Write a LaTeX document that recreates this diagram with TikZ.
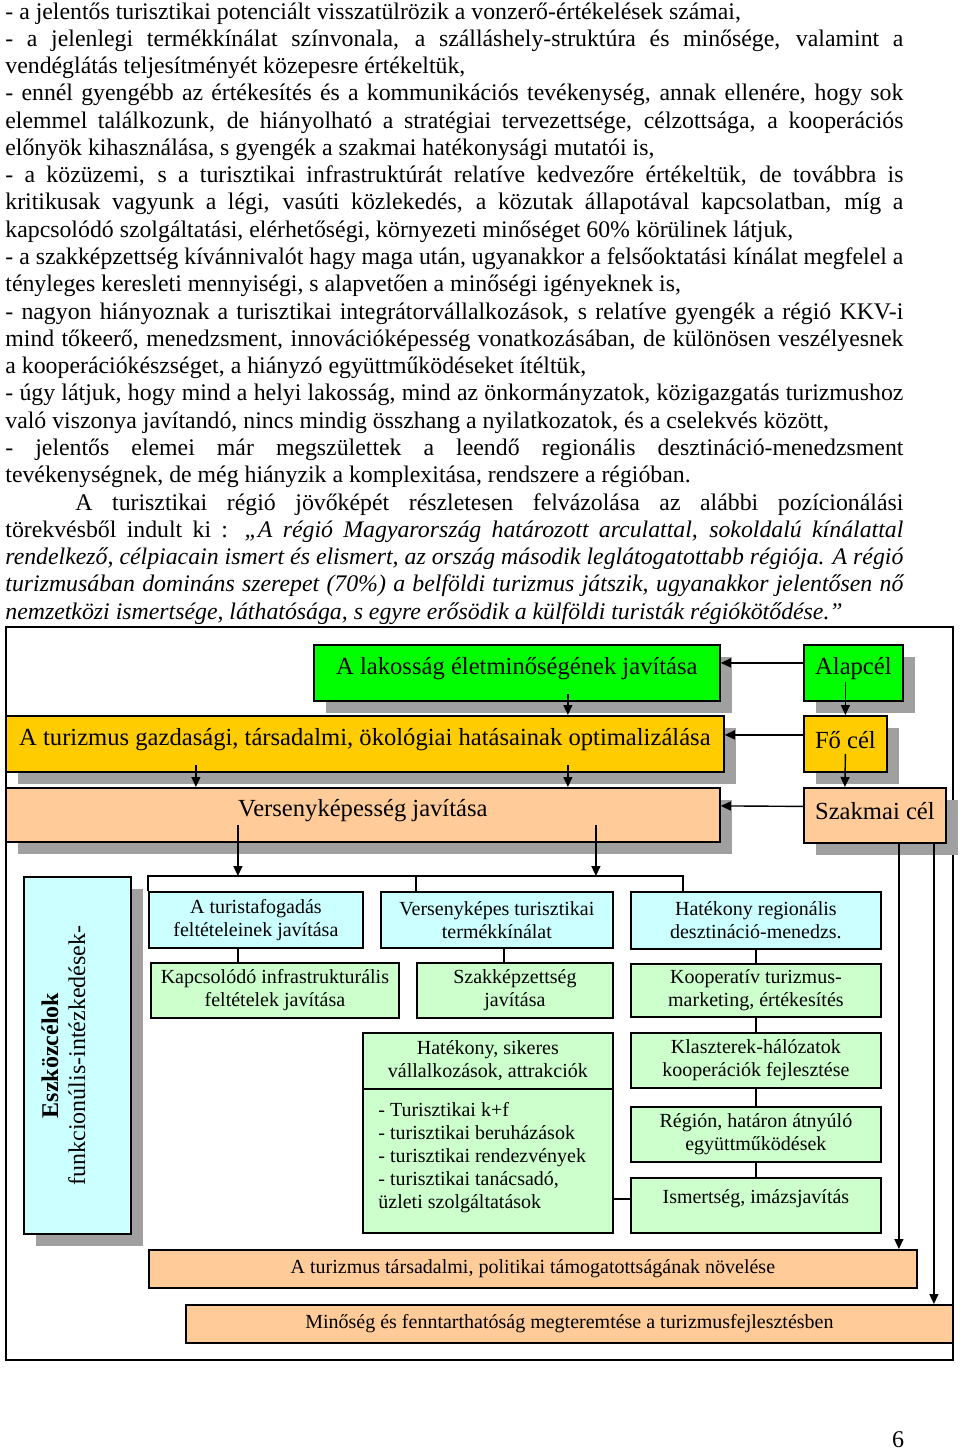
\documentclass[tikz,border=0pt]{standalone}
\usepackage{fontspec}
\setmainfont{Liberation Serif}
\usetikzlibrary{positioning,shadows,arrows.meta}

\definecolor{zold}{RGB}{0,255,0}
\definecolor{sarga}{RGB}{255,204,0}
\definecolor{barack}{RGB}{255,204,153}
\definecolor{cian}{RGB}{204,255,255}
\definecolor{halvanyzold}{RGB}{204,255,204}
\definecolor{arnyek}{RGB}{160,160,160}

\begin{document}
\begin{tikzpicture}[x=0.5pt,y=-0.5pt,
   doboz/.style={draw,line width=0.9pt,inner sep=0pt,anchor=north west},
   cel/.style={doboz,minimum height=28pt,
     drop shadow={shadow xshift=6pt,shadow yshift=-6pt,fill=arnyek,opacity=1}},
   eszkoz/.style={doboz,align=center,minimum width=125pt,minimum height=27.5pt,
     font=\fontsize{10}{11.5}\selectfont},
   celtext/.style={inner sep=0pt,font=\fontsize{12.3}{14}\selectfont},
   kistext/.style={inner sep=0pt,font=\fontsize{10}{11.5}\selectfont},
   nyil/.style={line width=0.7pt,-{Triangle[length=5pt,width=4.5pt]}},
   vonal/.style={line width=0.7pt}]
   \useasboundingbox (0,0) rectangle (960,1451);

   \node[anchor=base west,text width=449pt,align=justify,inner sep=0pt,
     font=\fontsize{11.9}{13.64}\selectfont] (bevezeto) at (5,19) {%
     \tolerance=10000 \hbadness=10000 \hyphenpenalty=10000 \exhyphenpenalty=10000
     - a jelentős turisztikai potenciált visszatülrözik a vonzerő-értékelések számai,\par
     - a jelenlegi termékkínálat színvonala, a szálláshely-struktúra és minősége, valamint a\linebreak
     vendéglátás teljesítményét közepesre értékeltük,\par
     - ennél gyengébb az értékesítés és a kommunikációs tevékenység, annak ellenére, hogy sok\linebreak
     elemmel találkozunk, de hiányolható a stratégiai tervezettsége, célzottsága, a kooperációs\linebreak
     előnyök kihasználása, s gyengék a szakmai hatékonysági mutatói is,\par
     - a közüzemi, s a turisztikai infrastruktúrát relatíve kedvezőre értékeltük, de továbbra is\linebreak
     kritikusak vagyunk a légi, vasúti közlekedés, a közutak állapotával kapcsolatban, míg a\linebreak
     kapcsolódó szolgáltatási, elérhetőségi, környezeti minőséget 60\% körülinek látjuk,\par
     - a szakképzettség kívánnivalót hagy maga után, ugyanakkor a felsőoktatási kínálat megfelel a\linebreak
     tényleges keresleti mennyiségi, s alapvetően a minőségi igényeknek is,\par
     - nagyon hiányoznak a turisztikai integrátorvállalkozások, s relatíve gyengék a régió KKV-i\linebreak
     mind tőkeerő, menedzsment, innovációképesség vonatkozásában, de különösen veszélyesnek\linebreak
     a kooperációkészséget, a hiányzó együttműködéseket ítéltük,\par
     - úgy látjuk, hogy mind a helyi lakosság, mind az önkormányzatok, közigazgatás turizmushoz\linebreak
     való viszonya javítandó, nincs mindig összhang a nyilatkozatok, és a cselekvés között,\par
     - jelentős elemei már megszülettek a leendő regionális desztináció-menedzsment\linebreak
     tevékenységnek, de még hiányzik a komplexitása, rendszere a régióban.\par
     \hspace*{35pt}A turisztikai régió jövőképét részletesen felvázolása az alábbi pozícionálási\linebreak
     törekvésből indult ki : \textit{„A régió Magyarország határozott arculattal, sokoldalú kínálattal\linebreak
     rendelkező, célpiacain ismert és elismert, az ország második leglátogatottabb régiója. A régió\linebreak
     turizmusában domináns szerepet (70\%) a belföldi turizmus játszik, ugyanakkor jelentősen nő\linebreak
     nemzetközi ismertsége, láthatósága, s egyre erősödik a külföldi turisták régiókötődése.”}};

   \node[doboz,line width=0.8pt,minimum width=473.5pt,minimum height=366.5pt] (keret) at (5,626) {};

   % celok
   \node[cel,fill=zold,minimum width=203pt] (lako) at (313,644) {};
   \node[cel,fill=zold,minimum width=49.5pt] (alap) at (803,644) {};
   \node[cel,fill=sarga,minimum width=359pt] (gazd) at (5,715) {};
   \node[cel,fill=sarga,minimum width=41.5pt] (focel) at (803,715) {};
   \node[cel,fill=barack,minimum width=357pt,minimum height=27pt] (verseny) at (5,787) {};
   \node[cel,fill=barack,minimum width=71pt,minimum height=27.5pt] (szakmai) at (803,787) {};
   \node[cel,fill=cian,minimum width=53.5pt,minimum height=178.5pt] (eszk) at (23,876) {};

   \node[celtext] (lako-t) at ([yshift=2pt]lako.center) {A lakosság életminőségének javítása};
   \node[celtext] (alap-t) at ([yshift=2pt]alap.center) {Alapcél};
   \node[celtext] (gazd-t) at ([yshift=2pt]gazd.center) {A turizmus gazdasági, társadalmi, ökológiai hatásainak optimalizálása};
   \node[celtext] (focel-t) at ([yshift=2pt]focel.center) {Fő cél};
   \node[celtext] (verseny-t) at ([yshift=2pt]verseny.center) {Versenyképesség javítása};
   \node[celtext] (szakmai-t) at ([yshift=2pt]szakmai.center) {Szakmai cél};
   \node[rotate=90,align=center,inner sep=0pt,font=\fontsize{12}{13.6}\selectfont]
     (eszk-t) at ([xshift=-7pt]eszk.center) {\textbf{Eszközcélok}\\funkcionúlis-intézkedések-};

   % eszkozcelok
   \node[eszkoz,fill=cian,minimum width=107pt,minimum height=28pt] (turfog) at (148,891) {A turistafogadás\\feltételeinek javítása};
   \node[eszkoz,fill=halvanyzold,minimum width=124pt] (infra) at (150,962) {Kapcsolódó infrastrukturális\\feltételek javítása};
   \node[eszkoz,fill=cian,minimum width=116pt,minimum height=28pt] (termek) at (380,891) {Versenyképes turisztikai\\termékkínálat};
   \node[eszkoz,fill=halvanyzold,minimum width=98pt] (szakk) at (416,962) {Szakképzettség\\javítása};
   \node[eszkoz,fill=halvanyzold,minimum height=72pt] (lista) at (362,1088) {};
   \node[eszkoz,fill=halvanyzold,minimum height=28pt] (vall) at (362,1032) {Hatékony, sikeres\\vállalkozások, attrakciók};
   \node[eszkoz,fill=cian,minimum height=28.5pt] (deszt) at (630,891) {Hatékony regionális\\desztináció-menedzs.};
   \node[eszkoz,fill=halvanyzold,minimum height=26.5pt] (koop) at (630,963) {Kooperatív turizmus-\\marketing, értékesítés};
   \node[eszkoz,fill=halvanyzold] (klaszt) at (630,1032) {Klaszterek-hálózatok\\kooperációk fejlesztése};
   \node[eszkoz,fill=halvanyzold] (regio) at (630,1106) {Régión, határon átnyúló\\együttműködések};
   \node[eszkoz,fill=halvanyzold] (imazs) at (630,1177) {};
   \node[kistext] (imazs-t) at ([yshift=3.25pt]imazs.center) {Ismertség, imázsjavítás};
   \node[kistext,anchor=north west,align=left] (lista-t) at ([xshift=8pt,yshift=-7pt]lista.north west)
     {- Turisztikai k+f\\- turisztikai beruházások\\- turisztikai rendezvények\\- turisztikai tanácsadó,\\üzleti szolgáltatások};

   \node[eszkoz,fill=barack,minimum width=384pt,minimum height=19pt] (tamog) at (148,1249) {A turizmus társadalmi, politikai támogatottságának növelése};
   \node[eszkoz,fill=barack,minimum width=383.5pt,minimum height=19pt] (minos) at (185,1304) {Minőség és fenntarthatóság megteremtése a turizmusfejlesztésben};

   \node[inner sep=0pt,font=\fontsize{12}{14}\selectfont] (oldal) at (898,1440) {6};

   % kapcsolatok
   \draw[vonal] (turfog.north west) -- ([yshift=7.5pt]turfog.north west)
     -- ([xshift=26.5pt,yshift=7.5pt]deszt.north west) -- ([xshift=26.5pt]deszt.north west);
   \draw[vonal] ([xshift=18pt,yshift=7.5pt]termek.north west) -- ([xshift=18pt]termek.north west);
   \path[vonal]
     ([xshift=-9pt]turfog.south) edge ([xshift=-18.5pt]infra.north)
     ([xshift=3.5pt]termek.south) edge ([xshift=-5.5pt]szakk.north)
     ([yshift=-19pt]lista.east) edge ([yshift=3.25pt]imazs.west)
     (deszt) edge (koop)
     (koop) edge (klaszt)
     (klaszt) edge (regio)
     (regio) edge (imazs);
   \path[nyil]
     ([yshift=5pt]alap.west) edge ([yshift=5pt]lako.east)
     ([yshift=4.5pt]focel.west) edge ([yshift=4.5pt]gazd.east)
     ([yshift=4.5pt]szakmai.west) edge ([yshift=4.5pt]verseny.east)
     ([xshift=-4pt,yshift=10pt]alap.south) edge (focel.north)
     ([yshift=9.5pt]focel.south) edge ([xshift=-15pt]szakmai.north)
     ([xshift=25.5pt,yshift=4pt]lako.south) edge ([xshift=101.5pt]gazd.north)
     ([xshift=-84.5pt,yshift=4pt]gazd.south) edge ([xshift=-83.5pt]verseny.north)
     ([xshift=101.5pt,yshift=4pt]gazd.south) edge ([xshift=102.5pt]verseny.north)
     ([xshift=-62.5pt,yshift=9pt]verseny.south) edge ([xshift=-9pt,yshift=7.5pt]turfog.north)
     ([xshift=116.5pt,yshift=9pt]verseny.south) edge ([xshift=49.5pt,yshift=7.5pt]termek.north)
     ([xshift=12pt]szakmai.south) edge ([xshift=183pt]tamog.north)
     ([xshift=29.5pt]szakmai.south) edge ([xshift=182.25pt]minos.north);
\end{tikzpicture}
\end{document}
